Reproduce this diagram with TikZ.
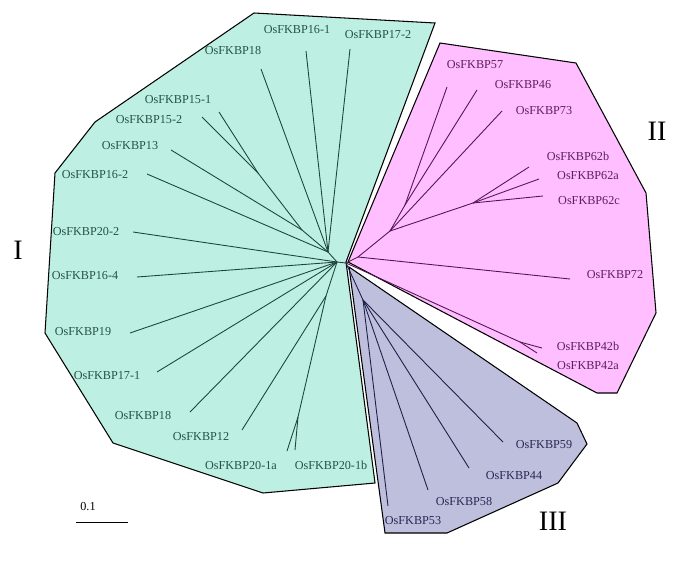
\documentclass[tikz,border=0pt]{standalone}
\usepackage{fontspec}
\setmainfont{Liberation Serif}
\usepackage{xcolor}
\definecolor{cladegreen}{RGB}{189,240,227}
\definecolor{cladepink}{RGB}{255,190,255}
\definecolor{cladeblue}{RGB}{189,191,221}
\definecolor{linegreen}{RGB}{28,70,58}
\definecolor{linepink}{RGB}{82,22,82}
\definecolor{lineblue}{RGB}{30,30,72}
\definecolor{txtgreen}{RGB}{38,82,70}
\definecolor{txtpink}{RGB}{92,32,92}
\definecolor{txtblue}{RGB}{40,40,84}
\usetikzlibrary{positioning}
\tikzset{
  clade/.style={draw=black, line width=0.9pt, fill=#1, line join=miter},
  branch/.style={draw=#1, line width=0.75pt},
  leaf/.style={font=\fontsize{10.4}{12}\selectfont, text=#1, inner sep=0pt},
  roman/.style={font=\fontsize{24}{28}\selectfont, inner sep=0pt},
}

\begin{document}
\begin{tikzpicture}[x=0.03cm, y=-0.03cm]
\useasboundingbox (0,0) rectangle (685,562);

% Clade areas
\path[clade=cladegreen] (254,13) -- (435,23) -- (346,262) -- (375,483) -- (263,493)
  -- (113,443) -- (45,333) -- (55,173) -- (95,122) -- cycle;
\path[clade=cladepink] (440,43) -- (576,63) -- (646,193) -- (656,313) -- (617,393)
  -- (597,393) -- (348,262) -- cycle;
\path[clade=cladeblue] (349,267) -- (577,423) -- (587,444) -- (558,483) -- (447,533)
  -- (385,533) -- cycle;

% Inner nodes
\coordinate (root) at (346,263);
\coordinate (g0) at (337,262);
\coordinate (g1) at (328,252);
\coordinate (g2) at (302,230);
\coordinate (g15) at (258,173);
\coordinate (g12) at (326,296);
\coordinate (g20) at (298,417);
\coordinate (p0) at (358,257);
\coordinate (p1) at (390,231);
\coordinate (p2) at (405,205);
\coordinate (p62) at (473,203);
\coordinate (p42) at (520,342);
\coordinate (b0) at (363,300);

% Leaf tips
\coordinate (t18a) at (261,69);
\coordinate (t161) at (306,51);
\coordinate (t172) at (350,49);
\coordinate (t151) at (219,112);
\coordinate (t152) at (202,117);
\coordinate (t13) at (171,150);
\coordinate (t162) at (147,174);
\coordinate (t202) at (133,232);
\coordinate (t164) at (137,277);
\coordinate (t19) at (130,333);
\coordinate (t171) at (157,372);
\coordinate (t18b) at (190,412);
\coordinate (t12) at (242,430);
\coordinate (t20a) at (287,451);
\coordinate (t20b) at (295,450);
\coordinate (t57) at (447,87);
\coordinate (t46) at (477,90);
\coordinate (t73) at (502,111);
\coordinate (t62b) at (529,167);
\coordinate (t62a) at (539,179);
\coordinate (t62c) at (543,196);
\coordinate (t72) at (570,279);
\coordinate (t42b) at (542,348);
\coordinate (t42a) at (537,353);
\coordinate (t59) at (503,442);
\coordinate (t44) at (469,468);
\coordinate (t58) at (428,490);
\coordinate (t53) at (388,506);

% Group I branches
\draw[branch=linegreen] (root) -- (g0);
\draw[branch=linegreen] (g0) -- (g1);
\draw[branch=linegreen] (g1) -- (t18a);
\draw[branch=linegreen] (g1) -- (t161);
\draw[branch=linegreen] (g1) -- (t172);
\draw[branch=linegreen] (g1) -- (t162);
\draw[branch=linegreen] (g1) -- (g2);
\draw[branch=linegreen] (g2) -- (t13);
\draw[branch=linegreen] (g2) -- (g15);
\draw[branch=linegreen] (g15) -- (t151);
\draw[branch=linegreen] (g15) -- (t152);
\draw[branch=linegreen] (g0) -- (t202);
\draw[branch=linegreen] (g0) -- (t164);
\draw[branch=linegreen] (g0) -- (t19);
\draw[branch=linegreen] (g0) -- (t171);
\draw[branch=linegreen] (g0) -- (t18b);
\draw[branch=linegreen] (g0) -- (g12);
\draw[branch=linegreen] (g12) -- (t12);
\draw[branch=linegreen] (g12) -- (g20);
\draw[branch=linegreen] (g20) -- (t20a);
\draw[branch=linegreen] (g20) -- (t20b);

% Group II branches
\draw[branch=linepink] (root) -- (p0);
\draw[branch=linepink] (p0) -- (p1);
\draw[branch=linepink] (p1) -- (p2);
\draw[branch=linepink] (p2) -- (t57);
\draw[branch=linepink] (p2) -- (t46);
\draw[branch=linepink] (p1) -- (t73);
\draw[branch=linepink] (p1) -- (p62);
\draw[branch=linepink] (p62) -- (t62b);
\draw[branch=linepink] (p62) -- (t62a);
\draw[branch=linepink] (p62) -- (t62c);
\draw[branch=linepink] (p0) -- (t72);
\draw[branch=linepink] (root) -- (p42);
\draw[branch=linepink] (p42) -- (t42b);
\draw[branch=linepink] (p42) -- (t42a);

% Group III branches
\draw[branch=lineblue] (root) -- (b0);
\draw[branch=lineblue] (b0) -- (t59);
\draw[branch=lineblue] (b0) -- (t44);
\draw[branch=lineblue] (b0) -- (t58);
\draw[branch=lineblue] (b0) -- (t53);

% Group I labels
\node[leaf=txtgreen] (l161) at (297,30) {OsFKBP16-1};
\node[leaf=txtgreen] (l172) at (378,35) {OsFKBP17-2};
\node[leaf=txtgreen] (l18a) at (233,51) {OsFKBP18};
\node[leaf=txtgreen] (l151) at (178,100) {OsFKBP15-1};
\node[leaf=txtgreen] (l152) at (149,120) {OsFKBP15-2};
\node[leaf=txtgreen] (l13) at (130,146) {OsFKBP13};
\node[leaf=txtgreen] (l162) at (95,175) {OsFKBP16-2};
\node[leaf=txtgreen] (l202) at (86,232) {OsFKBP20-2};
\node[leaf=txtgreen] (l164) at (85,276) {OsFKBP16-4};
\node[leaf=txtgreen] (l19) at (83,332) {OsFKBP19};
\node[leaf=txtgreen] (l171) at (107,376) {OsFKBP17-1};
\node[leaf=txtgreen] (l18b) at (143,416) {OsFKBP18};
\node[leaf=txtgreen] (l12) at (201,437) {OsFKBP12};
\node[leaf=txtgreen] (l20a) at (241,465) {OsFKBP20-1a};
\node[leaf=txtgreen] (l20b) at (331,465) {OsFKBP20-1b};

% Group II labels
\node[leaf=txtpink] (l57) at (475,65) {OsFKBP57};
\node[leaf=txtpink] (l46) at (523,85) {OsFKBP46};
\node[leaf=txtpink] (l73) at (544,111) {OsFKBP73};
\node[leaf=txtpink] (l62b) at (578,156) {OsFKBP62b};
\node[leaf=txtpink] (l62a) at (588,176) {OsFKBP62a};
\node[leaf=txtpink] (l62c) at (589,201) {OsFKBP62c};
\node[leaf=txtpink] (l72) at (615,275) {OsFKBP72};
\node[leaf=txtpink] (l42b) at (588,346) {OsFKBP42b};
\node[leaf=txtpink] (l42a) at (588,366) {OsFKBP42a};

% Group III labels
\node[leaf=txtblue] (l59) at (544,445) {OsFKBP59};
\node[leaf=txtblue] (l44) at (514,476) {OsFKBP44};
\node[leaf=txtblue] (l58) at (464,501) {OsFKBP58};
\node[leaf=txtblue] (l53) at (413,521) {OsFKBP53};

% Group names
\node[roman] (gI) at (18,250) {I};
\node[roman] (gII) at (657,131) {II};
\node[roman] (gIII) at (553,521) {III};

% Scale bar
\coordinate (sbl) at (76,522);
\coordinate (sbr) at (128,522);
\draw[line width=0.8pt] (sbl) -- (sbr);
\node[leaf=black] (sblab) at (88,507) {0.1};

\end{tikzpicture}
\end{document}
